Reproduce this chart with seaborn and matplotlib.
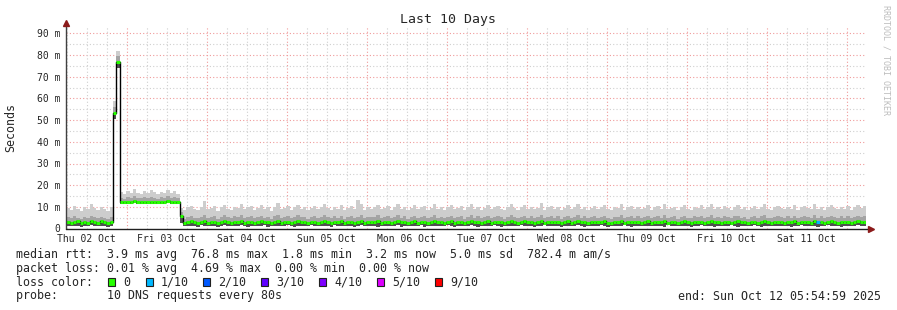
import numpy as np
import pandas as pd
import matplotlib
matplotlib.use("Agg")
import matplotlib.pyplot as plt
import matplotlib.dates as mdates
from matplotlib.patches import Rectangle
import seaborn as sns

# ---------------- data ----------------
title = "Last 10 Days"
start_time = "2025-10-02 05:54:59"
step = "1h"

med = [3.0, 2.6, 2.9, 3.3, 2.7, 3.1, 2.5, 3.3, 2.9, 2.6, 3.4, 3.0, 2.4, 3.2,
       53.2, 76.8,
       12.3, 12.1, 12.4, 12.2, 12.5, 12.3, 12.2, 12.4, 12.3, 12.1, 12.3, 12.4, 12.2, 12.3, 12.5, 12.2, 12.3, 12.4,
       5.8,
       2.4, 2.9, 3.3, 2.8, 2.6, 3.1, 3.4, 2.7, 2.9, 3.2, 2.5, 3.0, 3.3, 2.8, 2.6, 3.1, 2.9, 3.5, 2.7, 3.0,
       3.2, 2.6, 2.9, 3.3, 2.8, 3.0, 2.5, 3.1, 3.4, 2.7, 2.9, 3.2, 2.6, 3.0, 3.3, 2.8, 3.1, 2.5, 2.9, 3.2,
       2.7, 3.0, 3.4, 2.9, 2.6, 3.1, 2.8, 3.3, 2.5, 3.0, 3.2, 2.7, 2.9, 3.4, 2.6, 3.1, 2.8, 3.0, 3.3, 2.7,
       2.9, 3.2, 2.6, 3.0, 3.5, 2.8, 3.1, 2.5, 2.9, 3.3, 2.7, 3.0, 3.2, 2.6, 2.9, 3.4, 2.8, 3.1, 2.6, 3.0,
       3.3, 2.7, 2.9, 3.2, 2.5, 3.0, 3.4, 2.8, 3.1, 2.6, 2.9, 3.3, 2.7, 3.0, 3.2, 2.8, 2.5, 3.1, 3.4, 2.9,
       2.6, 3.0, 3.3, 2.8, 3.1, 2.7, 2.9, 3.5, 2.6, 3.0, 3.2, 2.8, 3.1, 2.5, 2.9, 3.3, 2.7, 3.0, 3.4, 2.8,
       3.1, 2.6, 2.9, 3.2, 2.8, 3.0, 3.3, 2.7, 2.5, 3.1, 2.9, 3.4, 2.6, 3.0, 3.2, 2.8, 3.1, 2.7, 2.9, 3.3,
       2.6, 3.0, 3.2, 2.8, 3.4, 2.7, 2.9, 3.1, 2.5, 3.0, 3.3, 2.8, 2.6, 3.1, 2.9, 3.2, 2.7, 3.0, 3.4, 2.8,
       3.0, 2.7, 3.2, 2.9, 2.6, 3.1, 3.3, 2.8, 3.0, 2.5, 2.9, 3.2, 2.7, 3.1, 3.4, 2.8, 2.6, 3.0, 3.2, 2.9,
       2.7, 3.1, 2.8, 3.3, 2.6, 3.0, 3.2, 2.9, 2.7, 3.4, 2.8, 3.1, 2.6, 3.0, 3.3, 2.9, 2.7, 3.1, 2.8, 3.2,
       2.6, 3.0, 3.3, 2.9, 3.2]

lo = [1.2, 1.0, 1.3, 1.1, 0.9, 1.2, 1.0, 1.4, 1.1, 1.0, 1.3, 1.2, 0.9, 1.1,
      50.5, 74.0,
      11.4, 11.3, 11.5, 11.2, 11.6, 11.4, 11.3, 11.5, 11.4, 11.2, 11.4, 11.5, 11.3, 11.4, 11.6, 11.3, 11.4, 11.5,
      2.5,
      1.1, 1.3, 1.0, 1.2, 0.9, 1.4, 1.1, 1.0, 1.3, 1.2, 0.9, 1.1, 1.4, 1.0, 1.2, 1.3, 1.0, 1.5, 1.1, 0.9,
      1.2, 1.0, 1.3, 1.1, 1.4, 0.9, 1.2, 1.0, 1.3, 1.1, 1.2, 1.4, 1.0, 0.9, 1.3, 1.1, 1.2, 1.0, 1.4, 1.1,
      1.0, 1.3, 1.1, 1.2, 0.9, 1.4, 1.0, 1.2, 1.1, 1.3, 1.0, 0.9, 1.2, 1.4, 1.1, 1.0, 1.3, 1.2, 0.9, 1.1,
      1.3, 1.1, 1.0, 1.2, 1.4, 0.9, 1.1, 1.3, 1.0, 1.2, 1.1, 1.4, 0.9, 1.2, 1.0, 1.3, 1.1, 1.2, 1.0, 1.4,
      1.1, 0.9, 1.2, 1.3, 1.0, 1.1, 1.4, 1.2, 0.9, 1.3, 1.0, 1.2, 1.1, 1.4, 1.0, 0.9, 1.2, 1.3, 1.1, 1.0,
      1.2, 1.4, 1.0, 1.1, 1.3, 0.9, 1.2, 1.0, 1.4, 1.1, 1.3, 1.0, 1.2, 0.9, 1.1, 1.3, 1.0, 1.2, 1.4, 1.1,
      0.9, 1.2, 1.1, 1.3, 1.0, 1.4, 1.2, 0.9, 1.1, 1.3, 1.0, 1.2, 1.4, 1.1, 0.9, 1.2, 1.3, 1.0, 1.1, 1.2,
      1.3, 1.0, 1.2, 1.1, 0.9, 1.4, 1.0, 1.2, 1.3, 1.1, 1.0, 1.2, 0.9, 1.3, 1.1, 1.4, 1.0, 1.2, 1.1, 0.9,
      1.2, 1.1, 1.3, 1.0, 1.4, 1.2, 0.9, 1.1, 1.3, 1.0, 1.2, 1.4, 1.1, 0.9, 1.2, 1.0, 1.3, 1.1, 1.2, 1.0,
      1.1, 1.3, 0.9, 1.2, 1.0, 1.4, 1.1, 1.2, 1.0, 1.3, 0.9, 1.1, 1.2, 1.4, 1.0, 1.2, 1.1, 0.9, 1.3, 1.1,
      1.0, 1.2, 1.4, 1.1, 1.3]

mid = [5.2, 4.8, 5.6, 5.0, 4.6, 5.4, 4.9, 5.8, 5.1, 4.7, 5.5, 5.0, 4.5, 5.3,
       56.0, 79.5,
       14.2, 13.8, 14.6, 14.0, 14.9, 14.3, 13.9, 14.5, 14.1, 14.7, 14.2, 13.8, 14.4, 14.0, 14.8, 14.2, 14.5, 14.1,
       7.6,
       4.6, 5.3, 5.8, 5.0, 4.7, 5.5, 6.1, 4.9, 5.2, 5.7, 4.5, 5.4, 6.0, 5.1, 4.8, 5.6, 5.2, 6.3, 4.9, 5.5,
       5.8, 4.7, 5.2, 5.9, 5.0, 5.4, 4.6, 5.6, 6.2, 4.9, 5.3, 5.7, 4.8, 5.4, 6.0, 5.1, 5.5, 4.6, 5.2, 5.8,
       4.9, 5.4, 6.1, 5.2, 4.7, 5.6, 5.0, 5.9, 4.6, 5.3, 5.8, 4.9, 5.2, 6.2, 4.8, 5.5, 5.1, 5.4, 6.0, 4.9,
       5.3, 5.8, 4.7, 5.4, 6.3, 5.0, 5.6, 4.6, 5.2, 5.9, 4.9, 5.4, 5.7, 4.8, 5.3, 6.1, 5.0, 5.5, 4.7, 5.4,
       5.9, 4.9, 5.2, 5.7, 4.6, 5.4, 6.1, 5.0, 5.6, 4.8, 5.2, 5.9, 4.9, 5.4, 5.8, 5.1, 4.6, 5.5, 6.2, 5.2,
       4.8, 5.4, 5.9, 5.0, 5.6, 4.9, 5.2, 6.3, 4.7, 5.4, 5.8, 5.0, 5.6, 4.6, 5.2, 5.9, 4.9, 5.4, 6.1, 5.0,
       5.6, 4.7, 5.2, 5.8, 5.0, 5.4, 5.9, 4.9, 4.6, 5.5, 5.2, 6.1, 4.8, 5.4, 5.8, 5.0, 5.6, 4.9, 5.2, 5.9,
       4.7, 5.4, 5.8, 5.0, 6.1, 4.9, 5.2, 5.6, 4.6, 5.4, 5.9, 5.0, 4.8, 5.6, 5.2, 5.8, 4.9, 5.4, 6.2, 5.0,
       5.4, 4.9, 5.8, 5.2, 4.7, 5.6, 5.9, 5.0, 5.4, 4.6, 5.2, 5.8, 4.9, 5.6, 6.1, 5.0, 4.8, 5.4, 5.8, 5.2,
       4.9, 5.6, 5.0, 5.9, 4.7, 5.4, 5.8, 5.2, 4.9, 6.1, 5.0, 5.6, 4.7, 5.4, 5.9, 5.2, 4.9, 5.6, 5.0, 5.8,
       4.7, 5.4, 5.9, 5.2, 5.7]

hi = [9.4, 8.6, 10.2, 9.0, 8.3, 9.8, 8.9, 11.1, 9.5, 8.4, 10.0, 9.2, 8.1, 9.7,
      59.0, 82.0,
      16.8, 15.9, 17.4, 16.2, 18.0, 16.6, 15.8, 17.2, 16.4, 17.8, 16.9, 15.7, 17.0, 16.3, 17.6, 16.5, 17.1, 16.0,
      9.5,
      8.4, 9.8, 10.6, 9.1, 8.6, 10.0, 12.9, 8.8, 9.5, 10.3, 8.2, 9.7, 10.9, 9.2, 8.7, 10.1, 9.4, 11.4, 8.9, 9.8,
      10.5, 8.6, 9.3, 10.8, 9.1, 9.7, 8.3, 10.0, 11.6, 8.8, 9.5, 10.4, 8.7, 9.8, 11.0, 9.2, 9.9, 8.4, 9.4, 10.6,
      8.9, 9.7, 11.1, 9.3, 8.5, 10.1, 9.0, 10.7, 8.4, 9.6, 10.3, 8.8, 13.2, 11.3, 8.7, 9.9, 9.2, 9.8, 10.9, 8.9,
      9.6, 10.5, 8.6, 9.8, 11.5, 9.1, 10.0, 8.4, 9.4, 10.7, 8.9, 9.7, 10.3, 8.7, 9.5, 11.1, 9.1, 9.9, 8.5, 9.7,
      10.7, 8.9, 9.4, 10.4, 8.4, 9.8, 11.1, 9.1, 10.0, 8.7, 9.4, 10.8, 8.9, 9.7, 10.5, 9.2, 8.4, 9.9, 11.3, 9.4,
      8.7, 9.7, 10.7, 9.1, 10.0, 8.9, 9.4, 11.7, 8.6, 9.7, 10.5, 9.1, 10.0, 8.4, 9.4, 10.8, 8.9, 9.7, 11.1, 9.1,
      10.1, 8.6, 9.4, 10.6, 9.1, 9.7, 10.8, 8.9, 8.4, 9.9, 9.4, 11.2, 8.7, 9.7, 10.6, 9.1, 10.1, 8.9, 9.4, 10.8,
      8.6, 9.7, 10.6, 9.1, 11.1, 8.9, 9.4, 10.1, 8.4, 9.7, 10.8, 9.1, 8.7, 10.1, 9.4, 10.7, 8.9, 9.7, 11.4, 9.1,
      9.7, 8.9, 10.6, 9.4, 8.6, 10.1, 10.8, 9.1, 9.7, 8.4, 9.4, 10.6, 8.9, 10.1, 11.1, 9.1, 8.7, 9.7, 10.6, 9.4,
      8.9, 10.1, 9.1, 10.8, 8.6, 9.7, 10.6, 9.4, 8.9, 11.3, 9.1, 10.1, 8.6, 9.7, 10.8, 9.4, 8.9, 10.1, 9.1, 10.6,
      8.6, 9.7, 10.8, 9.4, 10.2]

# samples with packet loss (index -> lost pings out of 10)
loss_idx = [225]
loss_tenths = [1]

loss_labels = ["0", "1/10", "2/10", "3/10", "4/10", "5/10", "9/10"]
loss_colors = ["#26ff00", "#00b8ff", "#0059ff", "#5e00ff", "#7e00ff", "#dd00ff", "#ff0000"]
loss_color_for = {0: "#26ff00", 1: "#00b8ff", 2: "#0059ff", 3: "#5e00ff", 4: "#7e00ff", 5: "#dd00ff", 9: "#ff0000"}

y_ticks = [0, 10, 20, 30, 40, 50, 60, 70, 80, 90]
y_tick_labels = ["0", "10 m", "20 m", "30 m", "40 m", "50 m", "60 m", "70 m", "80 m", "90 m"]

line1 = "median rtt:  3.9 ms avg  76.8 ms max  1.8 ms min  3.2 ms now  5.0 ms sd  782.4 m am/s"
line2 = "packet loss: 0.01 % avg  4.69 % max  0.00 % min  0.00 % now"
line3 = "loss color:"
line4 = "probe:       10 DNS requests every 80s"
end_text = "end: Sun Oct 12 05:54:59 2025"
watermark = "RRDTOOL / TOBI OETIKER"

# ---------------- plot ----------------
sns.set_style("white")
plt.rcParams["font.family"] = ["DejaVu Sans Mono", "DejaVu Sans"]

W, H = 897, 310
fig = plt.figure(figsize=(W / 100, H / 100), dpi=100)
ax_l, ax_r, ax_t, ax_b = 66.4, 866.4, 27.0, 228.5
ax = fig.add_axes([ax_l / W, 1 - ax_b / H, (ax_r - ax_l) / W, (ax_b - ax_t) / H])

n = len(med)
edges = pd.date_range(start_time, periods=n + 1, freq=step)
tx = mdates.date2num(edges.to_pydatetime())

med_a = np.array(med)
lo_a = np.array(lo)
mid_a = np.array(mid)
hi_a = np.array(hi)

def ext(a):
    return np.append(a, a[-1])

# grid
red_grid = "#f09a9a"
grey_grid = "#cfcfcf"
dot = (0, (1, 2))
for v in range(5, 95, 5):
    c = red_grid if v % 10 == 0 else grey_grid
    ax.axhline(v, color=c, lw=0.8, ls=dot, zorder=0)
six_h = pd.date_range("2025-10-02 06:00", "2025-10-12 00:00", freq="6h")
for t in six_h:
    c = red_grid if t.hour == 0 else grey_grid
    ax.axvline(mdates.date2num(t.to_pydatetime()), color=c, lw=0.8, ls=dot, zorder=0)

# smoke
ax.fill_between(tx, ext(mid_a), ext(hi_a), step="post", color="#cdcdcd", lw=0, zorder=2)
ax.fill_between(tx, ext(med_a), ext(mid_a), step="post", color="#a4a4a4", lw=0, zorder=2)
ax.fill_between(tx, ext(lo_a), ext(med_a), step="post", color="#505050", lw=0, zorder=2)

# median: black step line + loss-coloured segments
sns.lineplot(x=tx, y=ext(med_a), drawstyle="steps-post", color="black", lw=1.0,
             ax=ax, errorbar=None, zorder=3)
seg_colors = ["#26ff00"] * n
for i, k in zip(loss_idx, loss_tenths):
    seg_colors[i] = loss_color_for[k]
ax.hlines(med_a, tx[:-1], tx[1:], colors=seg_colors, lw=2.2, zorder=4)

ax.set_xlim(tx[0], tx[-1])
ax.set_ylim(0, 93)

noon = pd.date_range("2025-10-02 12:00", periods=10, freq="D")
ax.set_xticks(mdates.date2num(noon.to_pydatetime()))
ax.set_xticklabels([t.strftime("%a %d %b") for t in noon], fontsize=7.0)
ax.set_yticks(y_ticks)
ax.set_yticklabels(y_tick_labels, fontsize=7.0)
ax.tick_params(axis="x", length=0, pad=4)
ax.tick_params(axis="y", length=0, pad=4.6)
ax.set_xlabel("")
ax.set_ylabel("")
for s in ax.spines.values():
    s.set_visible(False)

# axes lines with arrows
ax.plot([0, 0], [0, 1.015], transform=ax.transAxes, color="#404040", lw=1, clip_on=False, zorder=5)
ax.plot([0, 1.006], [0, 0], transform=ax.transAxes, color="#202020", lw=1, clip_on=False, zorder=5)
ax.plot([0], [1.02], marker="^", ms=4.5, color="#8b1a1a", transform=ax.transAxes, clip_on=False, zorder=6)
ax.plot([1.006], [0], marker=">", ms=4.5, color="#8b1a1a", transform=ax.transAxes, clip_on=False, zorder=6)

# texts
fig.text(448 / W, 1 - 19 / H, title, ha="center", va="center", fontsize=9.5)
fig.text(10.7 / W, 1 - 127 / H, "Seconds", rotation=90, ha="center", va="center", fontsize=8.4)
fig.text(886 / W, 1 - 5 / H, watermark, rotation=-90, ha="center", va="top", fontsize=6, color="#bdbdbd")

fs = 8.4
fig.text(16 / W, 1 - 254.3 / H, line1, ha="left", va="center", fontsize=fs)
fig.text(16 / W, 1 - 268.3 / H, line2, ha="left", va="center", fontsize=fs)
fig.text(16 / W, 1 - 282 / H, line3, ha="left", va="center", fontsize=fs)
fig.text(16 / W, 1 - 296 / H, line4, ha="left", va="center", fontsize=fs)
fig.text(881 / W, 1 - 296 / H, end_text, ha="right", va="center", fontsize=fs)

sq_x = [108.3, 145.7, 203.3, 261.3, 319.3, 377.0, 435.0]
for x0, lab, col in zip(sq_x, loss_labels, loss_colors):
    fig.patches.append(Rectangle((x0 / W, 1 - 286 / H), 7 / W, 8 / H, transform=fig.transFigure,
                                 facecolor=col, edgecolor="#202020", lw=0.8))
    fig.text((x0 + 15) / W, 1 - 282 / H, lab, ha="left", va="center", fontsize=fs)

fig.savefig("out.png", dpi=100, facecolor="white")
